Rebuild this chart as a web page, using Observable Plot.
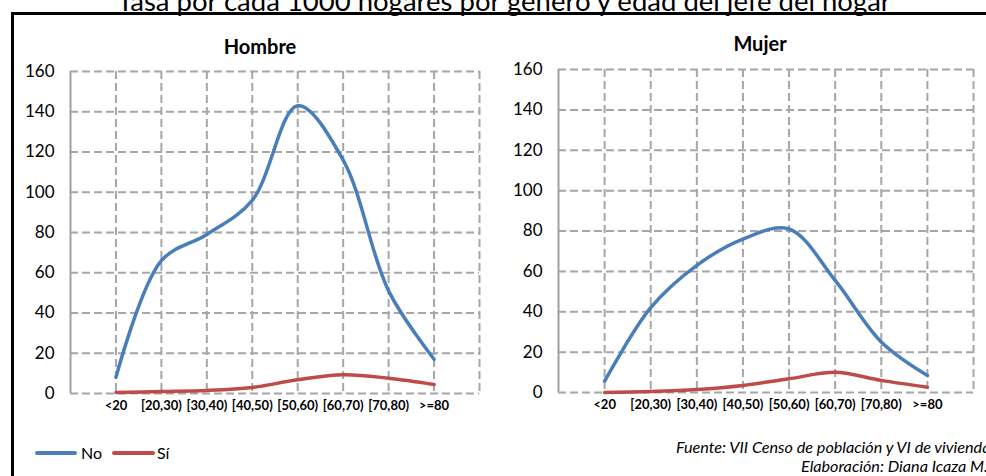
<!DOCTYPE html>
<html>
<head>
<meta charset="utf-8">
<script src="https://cdn.jsdelivr.net/npm/d3@7"></script>
<script src="https://cdn.jsdelivr.net/npm/@observablehq/plot@0.6"></script>
<style>
  html, body { margin: 0; padding: 0; background: #fff; }
  body { width: 986px; height: 476px; position: relative; overflow: hidden; font-family: Lato, "Liberation Sans", sans-serif; color: #000; }
  .abs { position: absolute; white-space: nowrap; line-height: 1; }
  #frame { position: absolute; left: 11px; top: 12px; width: 1100px; height: 600px; border: 3px solid #000; box-sizing: border-box; }
  #title { left: 4px; width: 1000px; text-align: center; top: -13px; font-size: 27.5px; }
  .ptitle { font-weight: bold; font-size: 20px; text-align: center; width: 200px; }
  .leg { position: absolute; height: 4px; border-radius: 2px; }
  .legt { font-size: 16px; }
  .cap { font-style: italic; font-size: 16.2px; }
  .panel { position: absolute; top: 0; }
</style>
</head>
<body>
<div id="frame"></div>
<div id="title" class="abs">Tasa por cada 1000 hogares por género y edad del jefe del hogar</div>
<div class="abs ptitle" style="left:160px; top:36px;">Hombre</div>
<div class="abs ptitle" style="left:660px; top:33px;">Mujer</div>
<div id="p1" class="panel" style="left:0px;"></div>
<div id="p2" class="panel" style="left:490px;"></div>
<div class="leg" style="left:35px; top:451px; width:42px; background:#4a7ebb;"></div>
<div class="abs legt" style="left:81px; top:445px;">No</div>
<div class="leg" style="left:112px; top:451px; width:43px; background:#be4b48;"></div>
<div class="abs legt" style="left:157px; top:445px;">Sí</div>
<div class="abs cap" style="left:676px; top:439px;">Fuente: VII Censo de población y VI de vivienda</div>
<div class="abs cap" style="left:801px; top:458px;">Elaboración: Diana Icaza M.</div>
<script>
const categories = ["<20", "[20,30)", "[30,40)", "[40,50)", "[50,60)", "[60,70)", "[70,80)", ">=80"];
const series = ["No", "Sí"];
const hombreNo = [8, 66, 79, 96, 143, 116, 51, 17];
const hombreSi = [0.5, 1, 1.5, 3, 6.8, 9.3, 7.6, 4.5];
const mujerNo = [5.6, 42, 63, 76, 81, 55.5, 25, 8.4];
const mujerSi = [0, 0.5, 1.5, 3.5, 6.8, 10, 6, 2.6];
const yTicks = [0, 20, 40, 60, 80, 100, 120, 140, 160];
const colors = {"No": "#4a7ebb", "Sí": "#be4b48"};

const gridStyle = {stroke: "#a6a6a6", strokeWidth: 2, strokeDasharray: "8,4", strokeOpacity: 1};

function rows(vals, serie) {
  return vals.map((v, i) => ({pos: i + 1, cat: categories[i], value: v, serie}));
}

function panel(no, si, o) {
  const data = rows(no, "No").concat(rows(si, "Sí"));
  return Plot.plot({
    width: o.width, height: o.height,
    marginLeft: o.ml, marginRight: o.mr, marginTop: o.mt, marginBottom: o.mb,
    style: {fontFamily: "Lato, 'Liberation Sans', sans-serif", background: "transparent", overflow: "visible", color: "#000"},
    x: {type: "linear", domain: [0, categories.length + 1], axis: null, label: null},
    y: {domain: [0, 160], axis: null, label: null},
    color: {domain: series, range: series.map(s => colors[s])},
    marks: [
      Plot.ruleY(yTicks, gridStyle),
      Plot.ruleX(d3.range(1, categories.length + 2), gridStyle),
      Plot.ruleX([0], {stroke: "#a0a0a0", strokeWidth: 2}),
      Plot.axisY(yTicks, {tickSize: 0, tickPadding: 16, fontSize: 17, fill: "#000", label: null}),
      Plot.axisX(d3.range(1, categories.length + 1), {tickSize: 0, tickPadding: 7, fontSize: 13, fontWeight: "bold", fill: "#000", label: null, tickFormat: i => categories[i - 1]}),
      Plot.line(data, {x: "pos", y: "value", z: "serie", stroke: "serie", strokeWidth: 3.5, curve: "catmull-rom", strokeLinecap: "round"})
    ]
  });
}

document.getElementById("p1").append(panel(hombreNo, hombreSi, {width: 490, height: 420, ml: 70, mr: 11, mt: 71, mb: 27}));
document.getElementById("p2").append(panel(mujerNo, mujerSi, {width: 496, height: 420, ml: 68, mr: 13, mt: 69, mb: 28}));
</script>
</body>
</html>
